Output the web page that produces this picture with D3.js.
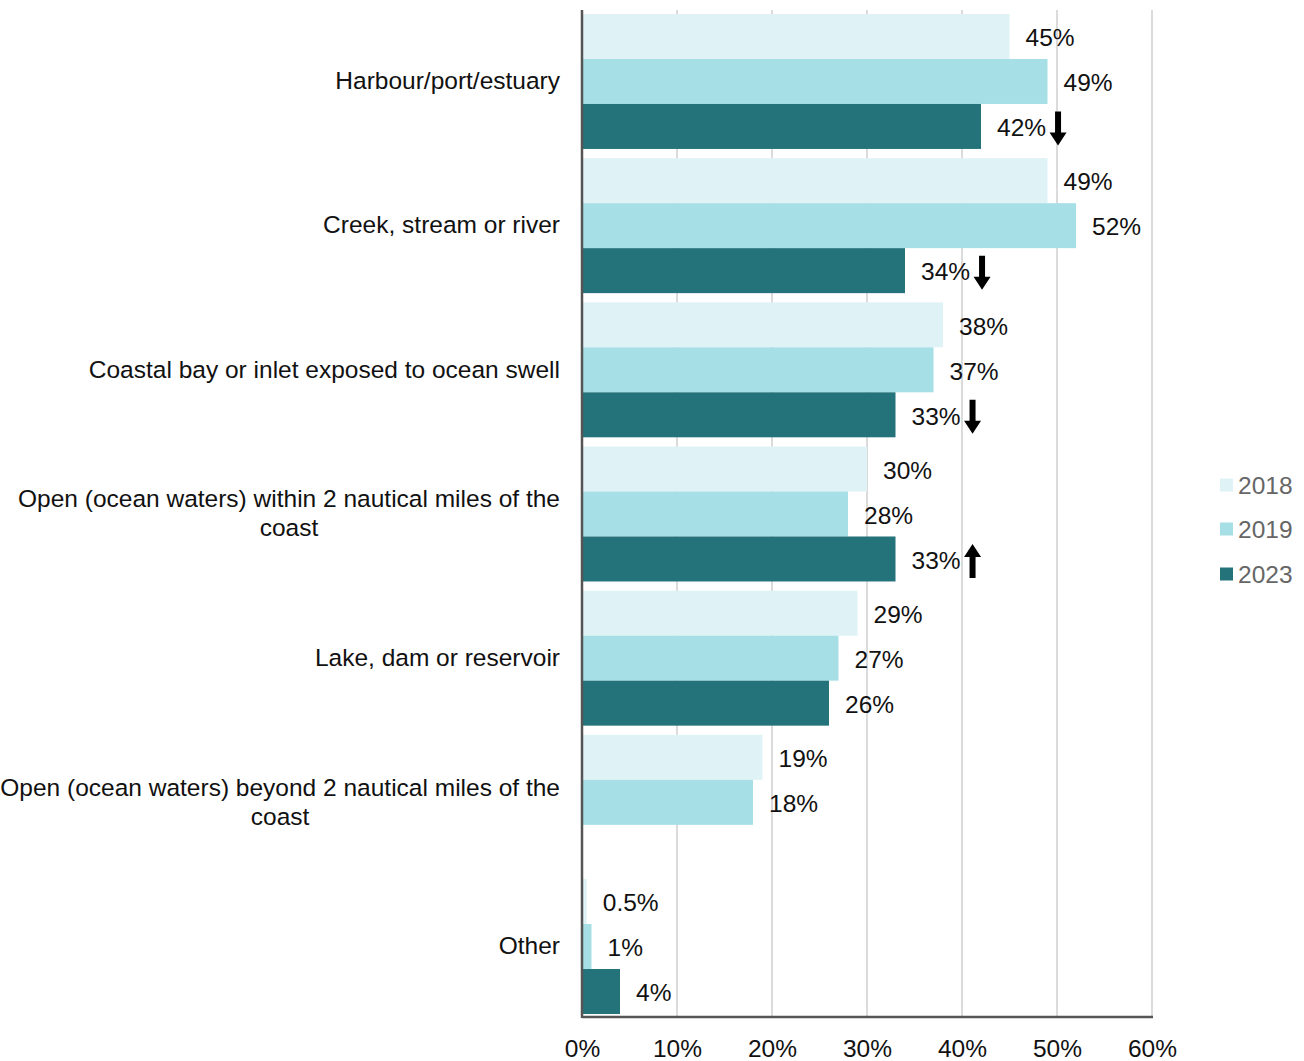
<!DOCTYPE html>
<html>
<head>
<meta charset="utf-8">
<script src="https://cdn.jsdelivr.net/npm/d3@7"></script>
<style>
  html, body { margin: 0; padding: 0; background: #fff; }
  svg { display: block; font-family: "Liberation Sans", Arial, Helvetica, sans-serif; }
</style>
</head>
<body>
<svg id="chart" width="1304" height="1061"></svg>
<script>
// Locations where recreational boating took place, by survey year (%)
const categories = [
  "Harbour/port/estuary",
  "Creek, stream or river",
  "Coastal bay or inlet exposed to ocean swell",
  "Open (ocean waters) within 2 nautical miles of the coast",
  "Lake, dam or reservoir",
  "Open (ocean waters) beyond 2 nautical miles of the coast",
  "Other"
];
const years = ["2018", "2019", "2023"];
const values2018 = [45, 49, 38, 30, 29, 19, 0.5];
const values2019 = [49, 52, 37, 28, 27, 18, 1];
const values2023 = [42, 34, 33, 33, 26, null, 4];
// Significant change in 2023 versus earlier years
const trend2023 = ["down", "down", "down", "up", null, null, null];
const xTicks = [0, 10, 20, 30, 40, 50, 60];
const colors = ["#dff2f6", "#a7dfe6", "#24737b"];

const series = [values2018, values2019, values2023];
const fontSize = 24.5;

const svg = d3.select("#chart");
const plotLeft = 582, plotRight = 1152, plotTop = 14, plotBottom = 1014;

const x = d3.scaleLinear().domain([0, 60]).range([plotLeft, plotRight]);
const y = d3.scaleBand().domain(categories).range([plotTop, plotBottom]).paddingInner(0.064).paddingOuter(0);
const ySub = d3.scaleBand().domain(years).range([0, y.bandwidth()]);

// vertical gridlines
svg.append("g")
  .selectAll("line")
  .data(xTicks.slice(1))
  .join("line")
  .attr("x1", d => x(d)).attr("x2", d => x(d))
  .attr("y1", 10).attr("y2", 1017)
  .attr("stroke", "#cfcfcf").attr("stroke-width", 1.5);

// bars
const groups = svg.append("g")
  .selectAll("g")
  .data(categories)
  .join("g")
  .attr("transform", d => `translate(0,${y(d)})`);

groups.each(function(cat, ci) {
  const g = d3.select(this);
  years.forEach((yr, si) => {
    const v = series[si][ci];
    if (v === null || v === undefined) return;
    g.append("rect")
      .attr("x", x(0))
      .attr("y", ySub(yr))
      .attr("width", x(v) - x(0))
      .attr("height", ySub.bandwidth())
      .attr("fill", colors[si]);
    const label = g.append("text")
      .attr("x", x(v) + 16)
      .attr("y", ySub(yr) + ySub.bandwidth() / 2 + 1)
      .attr("dy", "0.36em")
      .attr("font-size", fontSize)
      .attr("fill", "#111")
      .text(v + "%");
    if (si === 2 && trend2023[ci]) {
      const w = label.node().getComputedTextLength();
      const cx = x(v) + 16 + w + 12;
      const cy = ySub(yr) + ySub.bandwidth() / 2 + 2;
      const h = 34, hw = 8.5, sw = 3, hh = 13;
      const dir = trend2023[ci] === "down" ? 1 : -1;
      const tip = cy + dir * h / 2, tail = cy - dir * h / 2;
      const neck = tip - dir * hh;
      const path = [
        [cx - sw, tail], [cx + sw, tail], [cx + sw, neck], [cx + hw, neck],
        [cx, tip], [cx - hw, neck], [cx - sw, neck]
      ];
      g.append("path")
        .attr("d", "M" + path.map(p => p.join(",")).join("L") + "Z")
        .attr("fill", "#000");
    }
  });
});

// category labels: centred lines, block right-aligned to the axis
const labelRight = 560, maxWidth = 570;
groups.each(function(cat) {
  const g = d3.select(this);
  const t = g.append("text")
    .attr("font-size", fontSize)
    .attr("fill", "#111")
    .attr("text-anchor", "middle");
  // wrap words into lines that fit
  const words = cat.split(" ");
  const lines = [];
  let cur = "";
  const probe = t.append("tspan");
  words.forEach(w => {
    const test = cur ? cur + " " + w : w;
    probe.text(test);
    if (probe.node().getComputedTextLength() > maxWidth && cur) {
      lines.push(cur);
      cur = w;
    } else {
      cur = test;
    }
  });
  lines.push(cur);
  let widest = 0;
  lines.forEach(l => { probe.text(l); widest = Math.max(widest, probe.node().getComputedTextLength()); });
  probe.remove();
  const lh = 29;
  const cy = y.bandwidth() / 2 - 1 - (lines.length - 1) * lh / 2;
  lines.forEach((l, i) => {
    t.append("tspan")
      .attr("x", labelRight - widest / 2)
      .attr("y", cy + i * lh)
      .attr("dy", "0.36em")
      .text(l);
  });
});

// axis lines
svg.append("line")
  .attr("x1", plotLeft).attr("x2", plotLeft).attr("y1", 10).attr("y2", 1018)
  .attr("stroke", "#555").attr("stroke-width", 2.5);
svg.append("line")
  .attr("x1", plotLeft).attr("x2", plotRight + 1).attr("y1", 1017).attr("y2", 1017)
  .attr("stroke", "#555").attr("stroke-width", 2.5);

// x tick labels
const xAxis = d3.axisBottom(x).tickValues(xTicks).tickFormat(d => d + "%").tickSize(0).tickPadding(0);
const xg = svg.append("g").attr("transform", "translate(0,1048)").call(xAxis);
xg.select(".domain").remove();
xg.selectAll("text")
  .attr("font-size", fontSize)
  .attr("font-family", "\"Liberation Sans\", Arial, sans-serif")
  .attr("fill", "#111")
  .attr("y", 0)
  .attr("dy", "0.36em");

// legend
const legend = svg.append("g").attr("transform", "translate(1220,0)");
const legendY = [485, 529, 574];
years.forEach((yr, i) => {
  legend.append("rect")
    .attr("x", 0).attr("y", legendY[i] - 6.5)
    .attr("width", 13).attr("height", 13)
    .attr("fill", colors[i]);
  legend.append("text")
    .attr("x", 18).attr("y", legendY[i])
    .attr("dy", "0.36em")
    .attr("font-size", fontSize)
    .attr("fill", "#666")
    .text(yr);
});
</script>
</body>
</html>
